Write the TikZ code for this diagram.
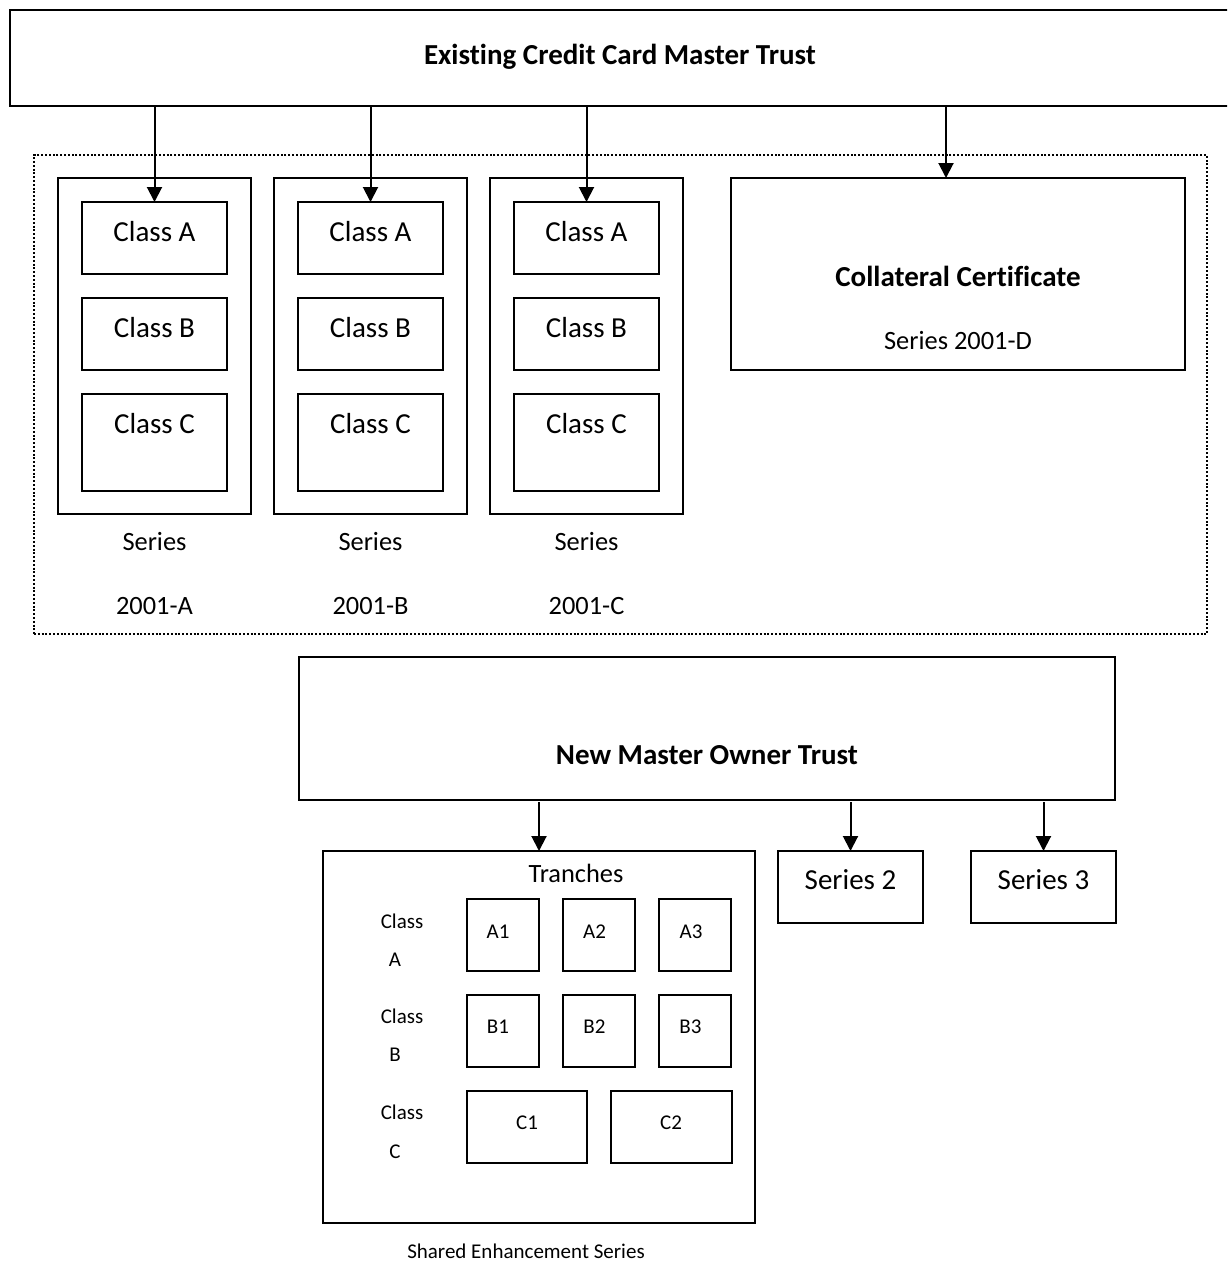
\documentclass[tikz,border=0pt]{standalone}
\usepackage{fontspec}
\setmainfont{Carlito}[Ligatures=NoCommon]
\usetikzlibrary{arrows.meta}

\begin{document}
\begin{tikzpicture}[x=1pt,y=-1pt,
  box/.style={draw, line width=2pt, inner sep=0pt, outer sep=0pt},
  grpbox/.style={draw, line width=2pt, dash pattern=on 2pt off 1.8pt, inner sep=0pt, outer sep=0pt},
  arr/.style={line width=2pt, -{Triangle[width=15pt,length=15pt]}},
  ttl/.style={inner sep=0pt, font=\fontsize{29}{34}\selectfont\bfseries},
  lg/.style={inner sep=0pt, font=\fontsize{29}{34}\selectfont},
  md/.style={inner sep=0pt, font=\fontsize{26.4}{31}\selectfont},
  sm/.style={inner sep=0pt, font=\fontsize{21}{25}\selectfont}]

\useasboundingbox (0,0) rectangle (1227,1266);
\clip (0,0) rectangle (1227,1266);

% Existing trust
\node[box, minimum width=1230pt, minimum height=96pt] (top) at (625,58) {};
\node[ttl] (topT) at (620,57) {Existing Credit Card Master Trust};

% Group of series issued by the existing trust
\node[grpbox, minimum width=1173pt, minimum height=479pt] (grp) at (620.5,394.5) {};

% Series 2001-A, 2001-B, 2001-C
\foreach \n/\cx/\lab in {1/154.5/A, 2/370.5/B, 3/586.5/C} {
  \node[box, minimum width=193pt, minimum height=336pt] (s\n) at (\cx,346) {};
  \node[box, minimum width=145pt, minimum height=72pt] (ca\n) at (\cx,238) {};
  \node[box, minimum width=145pt, minimum height=72pt] (cb\n) at (\cx,334) {};
  \node[box, minimum width=145pt, minimum height=97pt] (cc\n) at (\cx,442.5) {};
  \node[lg] (caT\n) at (\cx,232) {Class A};
  \node[lg] (cbT\n) at (\cx,328) {Class B};
  \node[lg] (ccT\n) at (\cx,424) {Class C};
  \node[md] (sT\n) at (\cx,542) {Series};
  \node[md] (sY\n) at (\cx,606) {2001-\lab};
}

% Collateral certificate
\node[box, minimum width=454pt, minimum height=192pt] (coll) at (958,274) {};
\node[ttl] (collT) at (958,276) {Collateral Certificate};
\node[md] (collS) at (958,341) {Series 2001-D};
\coordinate (collIn) at (946,178);

% New master owner trust
\node[box, minimum width=816pt, minimum height=143pt] (nmot) at (707,728.5) {};
\node[ttl] (nmotT) at (707,755) {New Master Owner Trust};

% Shared enhancement series
\node[box, minimum width=432pt, minimum height=372pt] (shared) at (539,1037) {};
\node[md] (tranT) at (576,873) {Tranches};
\foreach \r/\cy in {A/935, B/1031} {
  \node[box, minimum width=72pt, minimum height=72pt] (\r1) at (503,\cy) {};
  \node[box, minimum width=72pt, minimum height=72pt] (\r2) at (599,\cy) {};
  \node[box, minimum width=72pt, minimum height=72pt] (\r3) at (695,\cy) {};
}
\node[box, minimum width=120pt, minimum height=72pt] (C1) at (527,1127) {};
\node[box, minimum width=121pt, minimum height=72pt] (C2) at (671.5,1127) {};

\node[sm] (A1T) at (498,932) {A1};
\node[sm] (A2T) at (594.5,932) {A2};
\node[sm] (A3T) at (691,932) {A3};
\node[sm] (B1T) at (498,1027) {B1};
\node[sm] (B2T) at (594.5,1027) {B2};
\node[sm] (B3T) at (690.5,1027) {B3};
\node[sm] (C1T) at (527,1123) {C1};
\node[sm] (C2T) at (671,1123) {C2};

\node[sm] (clA) at (402,921) {Class};
\node[sm] (clAl) at (395,960) {A};
\node[sm] (clB) at (402,1016) {Class};
\node[sm] (clBl) at (395,1055) {B};
\node[sm] (clC) at (402,1112) {Class};
\node[sm] (clCl) at (395,1152) {C};

\node[sm] (sharedT) at (526,1251) {Shared Enhancement Series};

% Other series of the new trust
\node[box, minimum width=145pt, minimum height=72pt] (ser2) at (850.5,887) {};
\node[box, minimum width=145pt, minimum height=72pt] (ser3) at (1043.5,887) {};
\node[lg] (ser2T) at (850.5,880) {Series 2};
\node[lg] (ser3T) at (1043.5,880) {Series 3};

% Connectors
\foreach \n in {1,2,3}
  \draw[arr] (top.south -| ca\n.north) -- (ca\n.north);
\draw[arr] (top.south -| collIn) -- (collIn);
\draw[arr, shorten <=2pt] (nmot.south -| shared.north) -- (shared.north);
\draw[arr, shorten <=2pt] (nmot.south -| ser2.north) -- (ser2.north);
\draw[arr, shorten <=2pt] (nmot.south -| ser3.north) -- (ser3.north);
\end{tikzpicture}
\end{document}
